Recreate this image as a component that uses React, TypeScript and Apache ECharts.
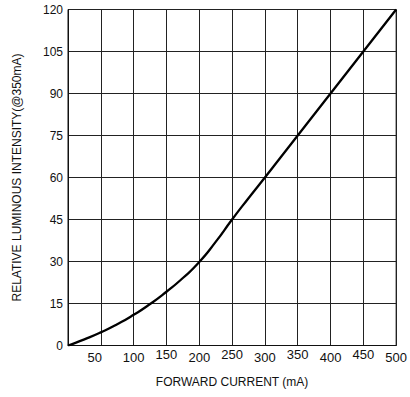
import React, { useEffect, useRef } from "react";
import * as echarts from "echarts";

const currentMA = [0, 25, 50, 75, 100, 125, 150, 175, 200, 225, 250, 275, 300, 325, 350, 375, 400, 425, 450, 475, 500];
const intensity = [0, 2.2, 4.7, 7.6, 10.95, 14.8, 19.2, 24.1, 29.8, 37.0, 45, 52.6, 60, 67.5, 75, 82.5, 90, 97.5, 105, 112.5, 120];
const xTicks = [50, 100, 150, 200, 250, 300, 350, 400, 450, 500];
const raisedTicks = [150, 250, 350, 450];
const yTicks = [0, 15, 30, 45, 60, 75, 90, 105, 120];

export default function App() {
  const ref = useRef<HTMLDivElement>(null);
  useEffect(() => {
    if (!ref.current) return;
    const chart = echarts.init(ref.current, null, { renderer: "svg" });
    const font = "Liberation Sans, Arial, sans-serif";
    chart.setOption({
      animation: false,
      backgroundColor: "#fff",
      grid: { left: 68, right: 9, top: 9.5, bottom: 51.5, show: true, borderColor: "#111", borderWidth: 1 },
      xAxis: {
        type: "value",
        min: 0,
        max: 500,
        interval: 50,
        name: "FORWARD CURRENT (mA)",
        nameLocation: "middle",
        nameGap: 30,
        nameTextStyle: { fontFamily: font, fontSize: 12, color: "#111" },
        axisLine: { show: true, lineStyle: { color: "#111" } },
        axisTick: { show: false },
        splitLine: { show: true, lineStyle: { color: "#222", width: 1 } },
        axisLabel: {
          fontFamily: font,
          fontSize: 13,
          color: "#111",
          margin: 3,
          formatter: (v: number) => {
            if (!xTicks.includes(v)) return "";
            if (v === 50) return `{lo50|${v}}`;
            return raisedTicks.includes(v) ? `{hi|${v}}` : `{lo|${v}}`;
          },
          rich: {
            lo: { fontFamily: font, fontSize: 13, color: "#111", lineHeight: 15.5, verticalAlign: "bottom" },
            hi: { fontFamily: font, fontSize: 13, color: "#111", lineHeight: 12, verticalAlign: "bottom" },
            lo50: { fontFamily: font, fontSize: 13, color: "#111", lineHeight: 15.5, verticalAlign: "bottom", padding: [0, 12, 0, 0] },
          },
        },
      },
      yAxis: {
        type: "value",
        min: yTicks[0],
        max: yTicks[yTicks.length - 1],
        interval: 15,
        name: "RELATIVE LUMINOUS INTENSITY(@350mA)",
        nameLocation: "middle",
        nameGap: 45,
        nameTextStyle: { fontFamily: font, fontSize: 12, color: "#111" },
        axisLine: { show: true, lineStyle: { color: "#111" } },
        axisTick: { show: false },
        splitLine: { show: true, lineStyle: { color: "#222", width: 1 } },
        axisLabel: { fontFamily: font, fontSize: 12, color: "#111", margin: 5 },
      },
      series: [
        {
          type: "line",
          data: currentMA.map((x, i) => [x, intensity[i]]),
          smooth: 0.6,
          showSymbol: false,
          lineStyle: { color: "#000", width: 2.3 },
        },
      ],
    });
    return () => chart.dispose();
  }, []);
  return <div ref={ref} style={{ position: "fixed", left: 0, top: 0, width: 410, height: 397 }} />;
}
